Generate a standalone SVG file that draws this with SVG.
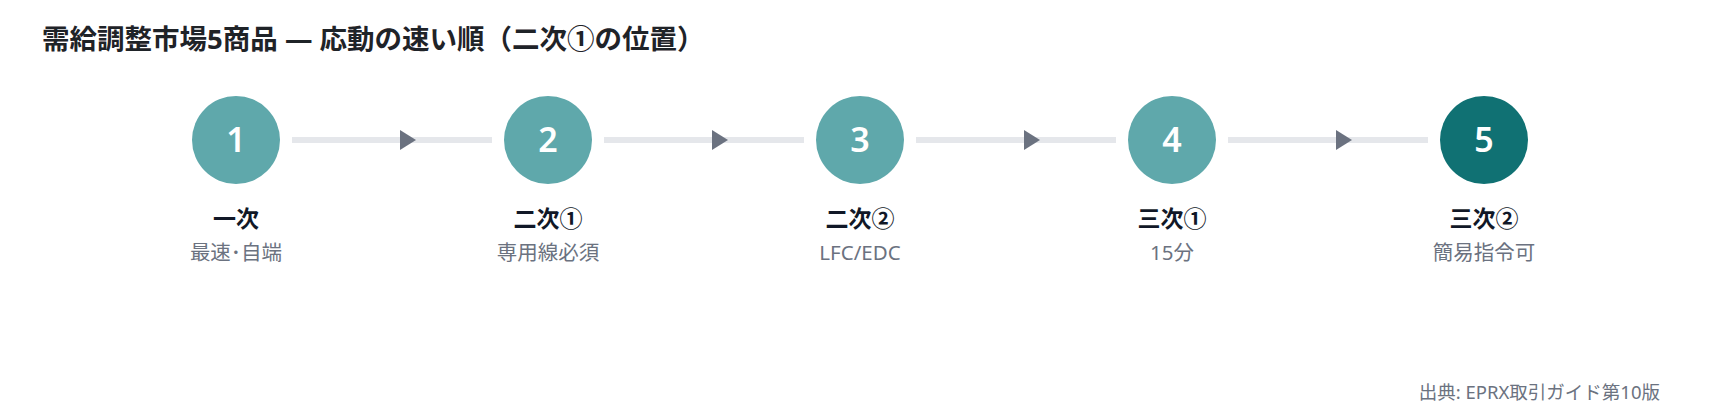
<svg xmlns="http://www.w3.org/2000/svg" width="1720" height="420" viewBox="0 0 1720 420">
<style>
text{font-family:"Noto Sans","Noto Sans CJK JP",sans-serif}
.title{font-size:27.5px;font-weight:700;fill:#1f2328}
.num{font-size:34px;font-weight:600;fill:#ffffff;text-anchor:middle}
.lab{font-size:23px;font-weight:700;fill:#111827;text-anchor:middle}
.sub{font-size:20.5px;fill:#6b7280;text-anchor:middle}
.src{font-size:18.5px;fill:#6b7280;text-anchor:end}
.c{fill:#5fa8ab}
.cd{fill:#107173}
.ln{stroke:#e5e7eb;stroke-width:6;fill:none}
.ar{fill:#6b7280}
</style>
<rect width="1720" height="420" fill="#ffffff"/>
<text class="title" x="42" y="49">需給調整市場5商品 — 応動の速い順（二次①の位置）</text>
<g id="connectors">
<line class="ln" x1="292" y1="140" x2="492" y2="140"/>
<polygon class="ar" points="400,130 416,140 400,150"/>
<line class="ln" x1="604" y1="140" x2="804" y2="140"/>
<polygon class="ar" points="712,130 728,140 712,150"/>
<line class="ln" x1="916" y1="140" x2="1116" y2="140"/>
<polygon class="ar" points="1024,130 1040,140 1024,150"/>
<line class="ln" x1="1228" y1="140" x2="1428" y2="140"/>
<polygon class="ar" points="1336,130 1352,140 1336,150"/>
</g>
<g id="node1">
<circle class="c" cx="236" cy="140" r="44"/>
<text class="num" x="236" y="152">1</text>
<text class="lab" x="236" y="227">一次</text>
<text class="sub" x="236" y="260">最速･自端</text>
</g>
<g id="node2">
<circle class="c" cx="548" cy="140" r="44"/>
<text class="num" x="548" y="152">2</text>
<text class="lab" x="548" y="227">二次①</text>
<text class="sub" x="548" y="260">専用線必須</text>
</g>
<g id="node3">
<circle class="c" cx="860" cy="140" r="44"/>
<text class="num" x="860" y="152">3</text>
<text class="lab" x="860" y="227">二次②</text>
<text class="sub" x="860" y="260">LFC/EDC</text>
</g>
<g id="node4">
<circle class="c" cx="1172" cy="140" r="44"/>
<text class="num" x="1172" y="152">4</text>
<text class="lab" x="1172" y="227">三次①</text>
<text class="sub" x="1172" y="260">15分</text>
</g>
<g id="node5">
<circle class="cd" cx="1484" cy="140" r="44"/>
<text class="num" x="1484" y="152">5</text>
<text class="lab" x="1484" y="227">三次②</text>
<text class="sub" x="1484" y="260">簡易指令可</text>
</g>
<text class="src" x="1660" y="399">出典: EPRX取引ガイド第10版</text>
</svg>
